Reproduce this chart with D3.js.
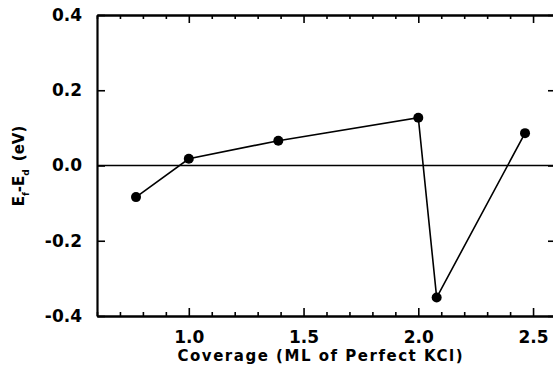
<!DOCTYPE html>
<html><head><meta charset="utf-8">
<script src="https://cdn.jsdelivr.net/npm/d3@7"></script>
<style>body{margin:0;background:#fff}svg{display:block}text{font-family:"DejaVu Sans","Liberation Sans",Arial,sans-serif;font-weight:bold;fill:#000}</style>
</head><body>
<script>
const coverage = [0.77, 1.0, 1.39, 2.0, 2.08, 2.465];
const energy = [-0.084, 0.018, 0.066, 0.127, -0.351, 0.086];
const xMajorTicks = [1.0, 1.5, 2.0, 2.5];
const yTicks = [0.4, 0.2, 0.0, -0.2, -0.4];
const xLabel = "Coverage (ML of Perfect KCl)";

const W = 553, H = 368;
const svg = d3.select("body").append("svg").attr("width", W).attr("height", H);
const x = d3.scaleLinear().domain([0.6, 2.6]).range([97, 556]);
const y = d3.scaleLinear().domain([-0.4, 0.4]).range([316, 15]);
const xMinor = d3.range(0.6, 2.61, 0.1).map(v => +v.toFixed(1)).filter(v => !xMajorTicks.includes(v));
const fmt = v => (v < 0 ? "-" : "") + Math.abs(v).toFixed(1);

const styleAxis = g => {
  g.attr("font-family", null).attr("font-size", null);
  g.selectAll("path").attr("stroke-width", 2.2);
  g.selectAll("line").attr("stroke-width", 1.6);
  g.selectAll("text").attr("font-size", 17).attr("fill", "#000");
};

// bottom
svg.append("g").attr("transform", `translate(0,${y(-0.4)})`)
  .call(d3.axisBottom(x).tickValues(xMinor).tickSize(-4).tickFormat("").tickSizeOuter(0)).call(styleAxis);
svg.append("g").attr("transform", `translate(0,${y(-0.4)})`)
  .call(d3.axisBottom(x).tickValues(xMajorTicks).tickSize(-8).tickSizeOuter(0).tickPadding(15).tickFormat(fmt)).call(styleAxis);
// top
svg.append("g").attr("transform", `translate(0,${y(0.4)})`)
  .call(d3.axisTop(x).tickValues(xMinor).tickSize(-4).tickFormat("").tickSizeOuter(0)).call(styleAxis);
svg.append("g").attr("transform", `translate(0,${y(0.4)})`)
  .call(d3.axisTop(x).tickValues(xMajorTicks).tickSize(-8).tickSizeOuter(0).tickFormat("")).call(styleAxis);
// left
svg.append("g").attr("transform", `translate(${x(0.6)},0)`)
  .call(d3.axisLeft(y).tickValues(yTicks).tickSize(-8).tickSizeOuter(0).tickPadding(15).tickFormat(fmt)).call(styleAxis);
// right
svg.append("g").attr("transform", `translate(${x(2.6)},0)`)
  .call(d3.axisRight(y).tickValues(yTicks).tickSize(-8).tickSizeOuter(0).tickFormat("")).call(styleAxis);

// zero line
svg.append("line").attr("x1", x(0.6)).attr("x2", x(2.6)).attr("y1", y(0)).attr("y2", y(0))
  .attr("stroke", "#000").attr("stroke-width", 1.7);

const pts = coverage.map((c, i) => [c, energy[i]]);
svg.append("path").datum(pts)
  .attr("d", d3.line().x(d => x(d[0])).y(d => y(d[1])))
  .attr("fill", "none").attr("stroke", "#000").attr("stroke-width", 1.6);
svg.selectAll("circle.pt").data(pts).join("circle").attr("class", "pt")
  .attr("cx", d => x(d[0])).attr("cy", d => y(d[1])).attr("r", 5).attr("fill", "#000");

// x label
svg.append("text").attr("x", 320).attr("y", 361).attr("text-anchor", "middle")
  .attr("font-size", 15).attr("textLength", 285).attr("lengthAdjust", "spacing").text(xLabel);

// y label
const yl = svg.append("text").attr("transform", "translate(24,166) rotate(-90)")
  .attr("text-anchor", "middle").attr("font-size", 15).attr("fill", "#000");
yl.append("tspan").text("E");
yl.append("tspan").attr("font-size", 9).attr("dy", 5).text("f");
yl.append("tspan").attr("dy", -5).text("-E");
yl.append("tspan").attr("font-size", 9).attr("dy", 5).text("d");
yl.append("tspan").attr("dy", -5).attr("dx", 8).text("(eV)");
</script>
</body></html>
